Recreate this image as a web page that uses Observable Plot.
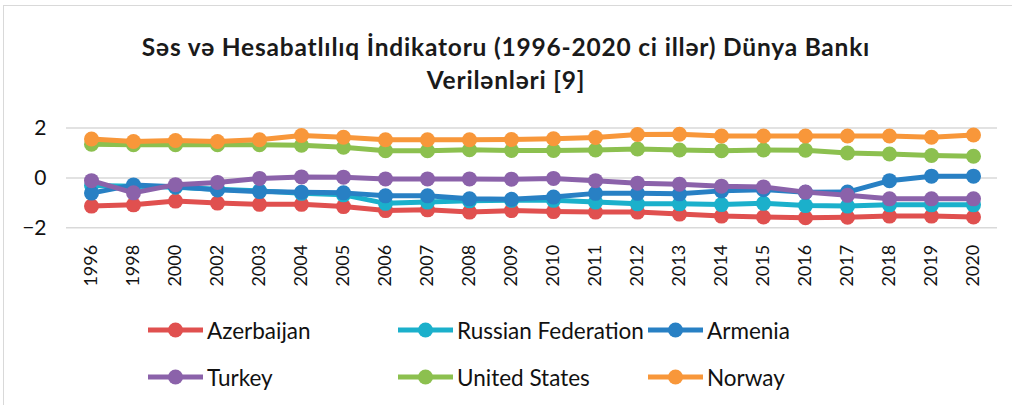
<!DOCTYPE html>
<html>
<head>
<meta charset="utf-8">
<script src="https://cdn.jsdelivr.net/npm/d3@7"></script>
<script src="https://cdn.jsdelivr.net/npm/@observablehq/plot@0.6"></script>
<style>
  html, body { margin: 0; padding: 0; background: #fff; }
  body { width: 1012px; height: 405px; position: relative; overflow: hidden; font-family: Lato, "Open Sans", sans-serif; }
  #frame { position: absolute; left: 3px; top: 5px; right: -2px; bottom: -2px; border-left: 1.5px solid #d9d9d9; border-top: 1.5px solid #d9d9d9; }
  #title { position: absolute; left: 0; width: 1012px; top: 30px; text-align: center; font-weight: bold; font-size: 24.5px; letter-spacing: 0.8px; line-height: 33px; color: #1a1a1a; }
  #chart { position: absolute; left: 0; top: 100px; }
  .leg { position: absolute; display: flex; align-items: center; font-size: 22.5px; color: #111; }
  .leg svg { margin-right: 4px; }
</style>
</head>
<body>
<div id="frame"></div>
<div id="title">Səs və Hesabatlılıq İndikatoru (1996-2020 ci illər) Dünya Bankı<br>Verilənləri [9]</div>
<div id="chart"></div>
<div id="legend"></div>
<script>
const years = ["1996","1998","2000","2002","2003","2004","2005","2006","2007","2008","2009","2010","2011","2012","2013","2014","2015","2016","2017","2018","2019","2020"];
const seriesNames = ["Azerbaijan","Russian Federation","Armenia","Turkey","United States","Norway"];
const seriesColors = ["#E0504F","#1BB0CB","#2880C4","#8B62AA","#8CC04F","#F8973A"];

const azerbaijan = [-1.13,-1.08,-0.93,-1.01,-1.06,-1.06,-1.15,-1.31,-1.28,-1.37,-1.31,-1.35,-1.37,-1.37,-1.45,-1.53,-1.57,-1.60,-1.58,-1.53,-1.53,-1.57];
const russia     = [-0.30,-0.33,-0.37,-0.45,-0.52,-0.62,-0.68,-1.02,-0.97,-0.92,-0.90,-0.90,-0.97,-1.04,-1.04,-1.07,-1.02,-1.11,-1.13,-1.08,-1.08,-1.08];
const armenia    = [-0.61,-0.28,-0.35,-0.48,-0.55,-0.58,-0.60,-0.72,-0.72,-0.84,-0.86,-0.77,-0.62,-0.62,-0.64,-0.52,-0.47,-0.58,-0.57,-0.11,0.07,0.07];
const turkey     = [-0.11,-0.60,-0.27,-0.18,-0.02,0.04,0.03,-0.04,-0.04,-0.04,-0.05,-0.02,-0.11,-0.21,-0.25,-0.33,-0.36,-0.57,-0.70,-0.84,-0.84,-0.84];
const usa        = [1.35,1.33,1.33,1.33,1.33,1.31,1.23,1.09,1.09,1.13,1.10,1.10,1.12,1.16,1.12,1.09,1.12,1.11,1.00,0.96,0.90,0.87];
const norway     = [1.56,1.46,1.50,1.46,1.53,1.70,1.63,1.53,1.53,1.53,1.54,1.57,1.62,1.74,1.75,1.68,1.68,1.68,1.68,1.68,1.63,1.72];
const yTicks = [-2, 0, 2];

const allValues = [azerbaijan, russia, armenia, turkey, usa, norway];

const marks = [
  Plot.gridY(yTicks, {stroke: "#d9d9d9", strokeOpacity: 1, strokeWidth: 1.5}),
  Plot.axisY(yTicks, {tickSize: 0, tickPadding: 20, fontSize: 21, label: null, fill: "#111"}),
  Plot.axisX({tickSize: 0, tickPadding: 17, tickRotate: -90, fontSize: 18, label: null, fill: "#111"})
];
seriesNames.forEach((name, i) => {
  const rows = years.map((y, j) => ({year: y, value: allValues[i][j], series: name}));
  marks.push(Plot.line(rows, {x: "year", y: "value", stroke: seriesColors[i], strokeWidth: 5}));
  marks.push(Plot.dot(rows, {x: "year", y: "value", fill: seriesColors[i], r: 7.5}));
});

const chart = Plot.plot({
  width: 1012,
  height: 200,
  marginLeft: 66,
  marginRight: 15,
  marginTop: 27.5,
  marginBottom: 72.7,
  style: {fontFamily: "Lato, 'Open Sans', sans-serif", background: "transparent", overflow: "visible"},
  x: {type: "point", domain: years, padding: 0.5, axis: null},
  y: {domain: [-2, 2], axis: null},
  marks
});
document.getElementById("chart").appendChild(chart);

// legend
const legendPos = [[148, 330], [398, 330], [648, 330], [148, 377], [398, 377], [648, 377]];
const legend = document.getElementById("legend");
seriesNames.forEach((name, i) => {
  const div = document.createElement("div");
  div.className = "leg";
  div.style.left = legendPos[i][0] + "px";
  div.style.top = (legendPos[i][1] - 14) + "px";
  div.style.height = "28px";
  div.innerHTML = `<svg width="55" height="20"><line x1="0" x2="55" y1="10" y2="10" stroke="${seriesColors[i]}" stroke-width="5"/><circle cx="27.5" cy="10" r="7.5" fill="${seriesColors[i]}"/></svg><span>${name}</span>`;
  legend.appendChild(div);
});
</script>
</body>
</html>
